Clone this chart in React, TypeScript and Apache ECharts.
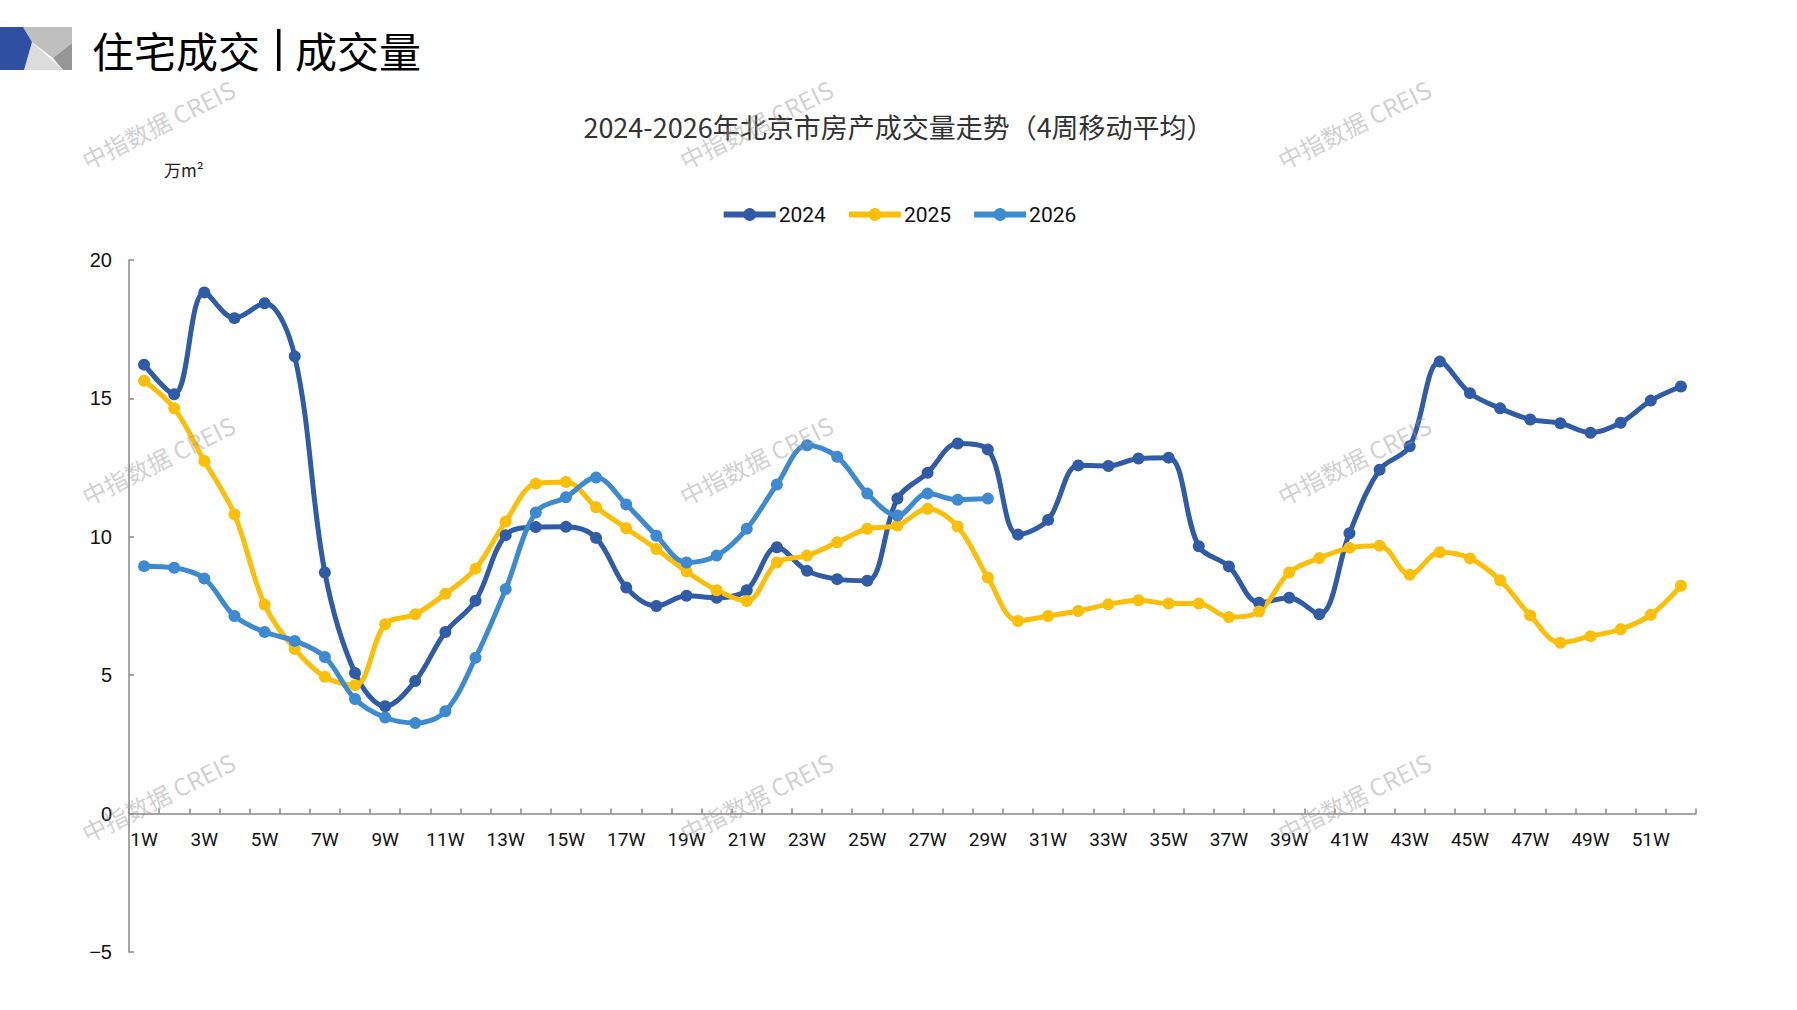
import {useEffect, useRef} from "react";
import * as echarts from "echarts";

const weeks = [
    "1W", "2W", "3W", "4W", "5W", "6W", "7W", "8W", "9W", "10W", "11W", "12W", "13W",
    "14W", "15W", "16W", "17W", "18W", "19W", "20W", "21W", "22W", "23W", "24W", "25W", "26W",
    "27W", "28W", "29W", "30W", "31W", "32W", "33W", "34W", "35W", "36W", "37W", "38W", "39W",
    "40W", "41W", "42W", "43W", "44W", "45W", "46W", "47W", "48W", "49W", "50W", "51W", "52W",
];

const values2024 = [
    16.22, 15.15, 18.83, 17.9, 18.44, 16.52, 8.71, 5.08, 3.88, 4.79,
    6.56, 7.69, 10.06, 10.35, 10.36, 9.96, 8.17, 7.5, 7.87, 7.8,
    8.07, 9.62, 8.77, 8.47, 8.41, 11.38, 12.31, 13.37, 13.15, 10.08,
    10.61, 12.58, 12.56, 12.83, 12.86, 9.66, 8.93, 7.62, 7.8, 7.2,
    10.13, 12.42, 13.27, 16.33, 15.19, 14.64, 14.24, 14.1, 13.76, 14.12,
    14.92, 15.43,
];

const values2025 = [
    15.64, 14.64, 12.74, 10.81, 7.55, 5.95, 4.94, 4.64, 6.84, 7.2,
    7.94, 8.85, 10.55, 11.92, 11.98, 11.07, 10.31, 9.56, 8.75, 8.07,
    7.68, 9.07, 9.32, 9.8, 10.29, 10.41, 11.01, 10.37, 8.53, 6.96,
    7.14, 7.32, 7.56, 7.71, 7.59, 7.59, 7.1, 7.3, 8.71, 9.23,
    9.6, 9.68, 8.63, 9.44, 9.22, 8.43, 7.16, 6.17, 6.41, 6.66,
    7.18, 8.23,
];

const values2026 = [
    8.94, 8.88, 8.49, 7.14, 6.56, 6.24, 5.66, 4.14, 3.47, 3.27,
    3.7, 5.63, 8.11, 10.88, 11.43, 12.14, 11.17, 10.04, 9.07, 9.32,
    10.29, 11.89, 13.31, 12.89, 11.56, 10.77, 11.56, 11.34, 11.38,
];

const yearNames = ["2024", "2025", "2026"];
const yearColors = ["#2F5BA7", "#FBBF0A", "#3E8AD0"];

const NARROW = "'Liberation Sans Narrow', 'Arial Narrow', 'Roboto', sans-serif";
const CJK = "'Noto Sans CJK SC', 'Noto Sans', sans-serif";

// watermark centres (page px)
const marks = [
    [158, 124], [756, 124], [1354, 124],
    [158, 460], [756, 460], [1354, 460],
    [158, 797], [756, 797], [1354, 797],
];

// x labels sit under the zero line, not under the grid bottom (-5)
const GRID_TOP = 260;
const GRID_BOTTOM = 952;
const ZERO_Y = GRID_TOP + (GRID_BOTTOM - GRID_TOP) * 20 / 25;

function makeSeries(name: string, color: string, data: number[]) {
    return {
        name,
        type: "line",
        data,
        smooth: 0.35,
        symbol: "circle",
        symbolSize: 12,
        lineStyle: {width: 5, color},
        itemStyle: {color},
    };
}

export default function App() {
    const domRef = useRef<HTMLDivElement>(null);

    useEffect(() => {
        if (!domRef.current) return;
        const chart = echarts.init(domRef.current, null, {renderer: "svg"});
        chart.setOption({
            animation: false,
            backgroundColor: "#ffffff",
            title: {
                text: "2024-2026年北京市房产成交量走势（4周移动平均）",
                left: "center",
                top: 108,
                textStyle: {fontFamily: CJK, fontSize: 27, fontWeight: "normal", color: "#333"},
            },
            legend: {
                top: 199,
                left: "center",
                itemWidth: 52,
                itemHeight: 16,
                itemGap: 20,
                lineStyle: {width: 6},
                textStyle: {fontFamily: NARROW, fontSize: 21, color: "#111", padding: [0, 0, 0, -2]},
                data: yearNames,
            },
            grid: {left: 129, right: 101, top: GRID_TOP, bottom: 1010 - GRID_BOTTOM},
            xAxis: {
                type: "category",
                data: weeks,
                boundaryGap: true,
                axisLine: {onZero: true, lineStyle: {color: "#888", width: 1.5}},
                axisTick: {show: true, inside: true, length: 5, interval: 0, lineStyle: {color: "#888", width: 1.5}},
                axisLabel: {
                    interval: 1,
                    margin: 16 - (GRID_BOTTOM - ZERO_Y),
                    fontFamily: NARROW,
                    fontSize: 19,
                    color: "#111",
                },
                splitLine: {show: false},
            },
            yAxis: {
                type: "value",
                min: -5,
                max: 20,
                interval: 5,
                axisLine: {show: true, lineStyle: {color: "#888", width: 1.5}},
                axisTick: {show: true, inside: true, length: 5, lineStyle: {color: "#888", width: 1.5}},
                axisLabel: {
                    margin: 17,
                    fontFamily: "'Liberation Sans', Arial, sans-serif",
                    fontSize: 20,
                    color: "#111",
                    formatter: (v: number) => String(v).replace("-", "−"),
                },
                splitLine: {show: false},
            },
            graphic: [
                // header block
                {type: "polygon", shape: {points: [[23, 27], [72, 27], [72, 43], [53, 58], [32, 42]]}, style: {fill: "#BFBFBF"}},
                {type: "polygon", shape: {points: [[72, 43], [53, 58], [63, 70], [72, 70]]}, style: {fill: "#969696"}},
                {type: "polygon", shape: {points: [[32, 42], [63, 70], [24, 70]]}, style: {fill: "#DCDCDC"}},
                {type: "polygon", shape: {points: [[0, 27], [23, 27], [32, 42], [24, 70], [0, 70]]}, style: {fill: "#2F4FA2"}},
                {type: "text", x: 92, y: 49, style: {text: "住宅成交", font: `42px ${CJK}`, fill: "#000", textVerticalAlign: "middle"}},
                {type: "rect", shape: {x: 277, y: 29, width: 3.5, height: 42}, style: {fill: "#000"}},
                {type: "text", x: 295, y: 49, style: {text: "成交量", font: `42px ${CJK}`, fill: "#000", textVerticalAlign: "middle"}},
                {type: "text", x: 164, y: 169, style: {text: "万m²", font: `17px ${CJK}`, fill: "#222", textVerticalAlign: "middle"}},
                ...marks.map(([x, y]) => ({
                    type: "text",
                    x,
                    y,
                    rotation: 0.46,
                    z: 100,
                    silent: true,
                    style: {
                        text: "中指数据 CREIS",
                        font: `24px ${CJK}`,
                        fill: "rgba(150,150,150,0.45)",
                        textAlign: "center",
                        textVerticalAlign: "middle",
                    },
                })),
            ],
            series: [
                makeSeries(yearNames[0], yearColors[0], values2024),
                makeSeries(yearNames[1], yearColors[1], values2025),
                makeSeries(yearNames[2], yearColors[2], values2026),
            ],
        });

        return () => {
            chart.dispose();
        };
    }, []);

    return <div ref={domRef} style={{position: "absolute", left: 0, top: 0, width: 1797, height: 1010}} />;
}
